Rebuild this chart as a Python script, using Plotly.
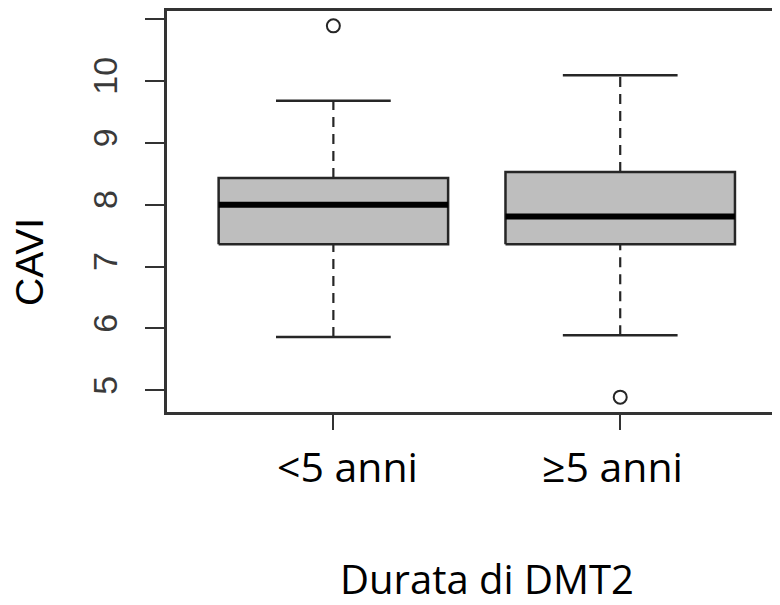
import plotly.graph_objects as go

categories = ["<5 anni", "≥5 anni"]
q1 = [7.36, 7.36]
median = [8.00, 7.81]
q3 = [8.43, 8.53]
lower_whisker = [5.86, 5.89]
upper_whisker = [9.68, 10.09]
outliers = [[10.89], [4.89]]
y_tickvals = [5, 6, 7, 8, 9, 10, 11]
y_ticktext = ["5", "6", "7", "8", "9", "10", ""]
label_xshift = [14, -8]

LINE = "#262626"
FILL = "#BEBEBE"
BOX_HALF = 0.4
CAP_HALF = 0.2

fig = go.Figure()
for i, cat in enumerate(categories):
    xc = i + 1
    # whiskers (dashed)
    fig.add_trace(go.Scatter(x=[xc, xc], y=[q3[i], upper_whisker[i]], mode="lines",
                             line=dict(color=LINE, width=2.2, dash="10px,7px"), hoverinfo="skip"))
    fig.add_trace(go.Scatter(x=[xc, xc], y=[lower_whisker[i], q1[i]], mode="lines",
                             line=dict(color=LINE, width=2.2, dash="10px,7px"), hoverinfo="skip"))
    # caps
    for v in (upper_whisker[i], lower_whisker[i]):
        fig.add_trace(go.Scatter(x=[xc - CAP_HALF, xc + CAP_HALF], y=[v, v], mode="lines",
                                 line=dict(color=LINE, width=2.5), hoverinfo="skip"))
    # box
    fig.add_trace(go.Scatter(
        x=[xc - BOX_HALF, xc + BOX_HALF, xc + BOX_HALF, xc - BOX_HALF, xc - BOX_HALF],
        y=[q1[i], q1[i], q3[i], q3[i], q1[i]],
        mode="lines", fill="toself", fillcolor=FILL,
        line=dict(color=LINE, width=2.5), name=cat, hoverinfo="skip"))
    # median
    fig.add_trace(go.Scatter(x=[xc - BOX_HALF, xc + BOX_HALF], y=[median[i], median[i]], mode="lines",
                             line=dict(color="#000000", width=6), hoverinfo="skip"))
    # outliers
    fig.add_trace(go.Scatter(x=[xc] * len(outliers[i]), y=outliers[i], mode="markers",
                             marker=dict(symbol="circle-open", size=13, color=LINE,
                                         line=dict(width=2, color=LINE)), hoverinfo="skip"))

annotations = [
    dict(text="Durata di DMT2", xref="paper", yref="paper", x=0.5214, y=-0.414,
         xanchor="center", yanchor="middle", showarrow=False,
         font=dict(family="Open Sans", size=40, color="#000000")),
    dict(text="CAVI", xref="paper", yref="paper", x=-0.2245, y=0.375,
         xanchor="center", yanchor="middle", textangle=-90, showarrow=False,
         font=dict(family="Liberation Sans", size=39, color="#000000")),
]
for i, cat in enumerate(categories):
    annotations.append(dict(text=cat, xref="x", yref="paper", x=i + 1, y=0,
                            xshift=label_xshift[i], yshift=-54,
                            xanchor="center", yanchor="middle", showarrow=False,
                            font=dict(family="Open Sans", size=41, color="#000000")))

fig.update_layout(
    width=772, height=597,
    margin=dict(l=159, r=0, t=3, b=193, autoexpand=False),
    paper_bgcolor="white", plot_bgcolor="white",
    showlegend=False,
    xaxis=dict(range=[0.42, 2.557], tickvals=[1, 2], ticktext=["", ""],
               automargin=False,
               showgrid=False, zeroline=False, showline=True, mirror=True,
               linecolor="#333333", linewidth=2.5,
               ticks="outside", ticklen=15, tickwidth=2.2, tickcolor="#333333"),
    yaxis=dict(range=[4.65, 11.13], tickvals=y_tickvals, ticktext=y_ticktext,
               automargin=False,
               showgrid=False, zeroline=False, showline=True, mirror=False,
               linecolor="#333333", linewidth=2.5,
               ticks="outside", ticklen=19, tickwidth=2.2, tickcolor="#333333",
               tickangle=-90,
               tickfont=dict(family="Liberation Sans", size=34, color="#3a3a3a"),
               ticklabelstandoff=15),
    annotations=annotations,
)

fig.write_html("out.html")
